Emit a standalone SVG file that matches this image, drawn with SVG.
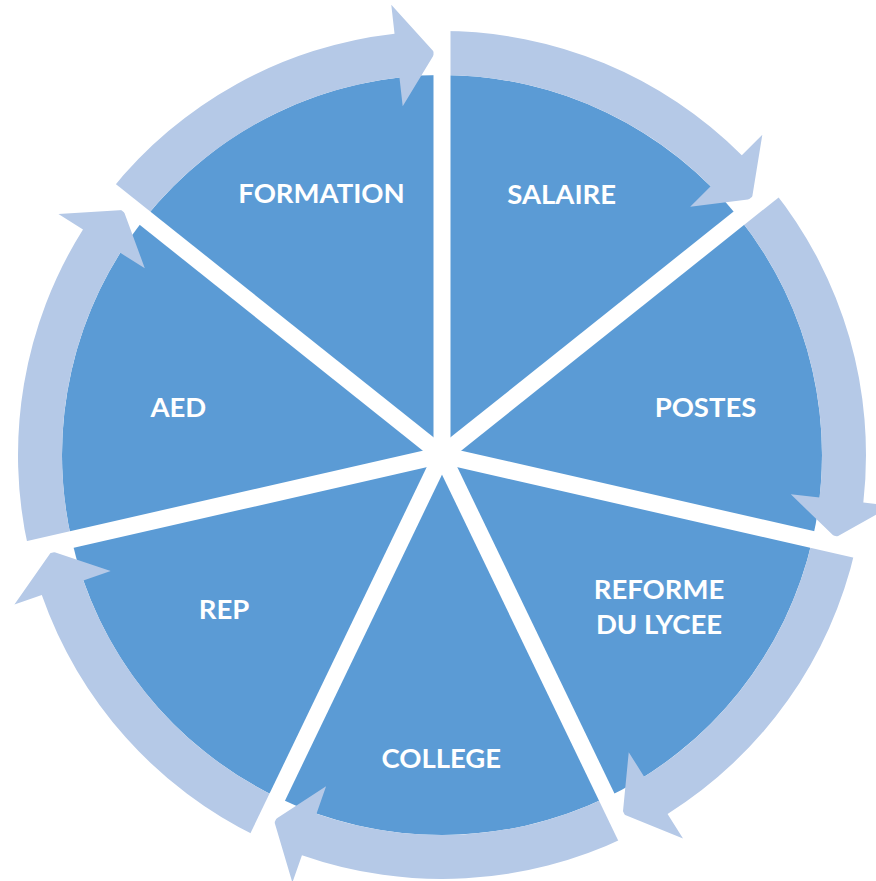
<svg xmlns="http://www.w3.org/2000/svg" xmlns:xlink="http://www.w3.org/1999/xlink" width="876" height="881" viewBox="0 0 876 881">
<style>
.slice{fill:#5B9BD5;}
.arrow{fill:#B5C9E7;}
.sep{stroke:#FFFFFF;stroke-width:17;}
.lbl{font-family:Lato,"Open Sans","Liberation Sans",sans-serif;font-weight:bold;font-size:27.5px;fill:#FFFFFF;text-anchor:middle;}
</style>
<defs>
<path id="slice" class="slice" d="M442,455 L442,75 A380,380 0 0 1 739.10,218.07 Z"/>
<path id="arrow" class="arrow" d="M442,31 A424,424 0 0 1 741.81,155.19 L762.32,134.68 L751.88,198.90 L690.19,206.81 L710.70,186.30 A380,380 0 0 0 442,75 Z"/>
<line id="sep" class="sep" x1="442" y1="455" x2="442" y2="8"/>
</defs>
<rect width="876" height="881" fill="#FFFFFF"/>
<g id="node-salaire">
<use xlink:href="#slice" href="#slice"/>
<text class="lbl" x="561.7" y="204">SALAIRE</text>
</g>
<g id="node-postes">
<use xlink:href="#slice" href="#slice" transform="rotate(51.4286 442 455)"/>
<text class="lbl" x="705.5" y="417">POSTES</text>
</g>
<g id="node-reforme">
<use xlink:href="#slice" href="#slice" transform="rotate(102.8571 442 455)"/>
<text class="lbl" x="659" y="599">REFORME</text>
<text class="lbl" x="659" y="634">DU LYCEE</text>
</g>
<g id="node-college">
<use xlink:href="#slice" href="#slice" transform="rotate(154.2857 442 455)"/>
<text class="lbl" x="441.3" y="768">COLLEGE</text>
</g>
<g id="node-rep">
<use xlink:href="#slice" href="#slice" transform="rotate(205.7143 442 455)"/>
<text class="lbl" x="224" y="619">REP</text>
</g>
<g id="node-aed">
<use xlink:href="#slice" href="#slice" transform="rotate(257.1429 442 455)"/>
<text class="lbl" x="178.3" y="417">AED</text>
</g>
<g id="node-formation">
<use xlink:href="#slice" href="#slice" transform="rotate(308.5714 442 455)"/>
<text class="lbl" x="321.5" y="203">FORMATION</text>
</g>
<g id="connectors">
<use xlink:href="#arrow" href="#arrow"/>
<use xlink:href="#arrow" href="#arrow" transform="rotate(51.4286 442 455)"/>
<use xlink:href="#arrow" href="#arrow" transform="rotate(102.8571 442 455)"/>
<use xlink:href="#arrow" href="#arrow" transform="rotate(154.2857 442 455)"/>
<use xlink:href="#arrow" href="#arrow" transform="rotate(205.7143 442 455)"/>
<use xlink:href="#arrow" href="#arrow" transform="rotate(257.1429 442 455)"/>
<use xlink:href="#arrow" href="#arrow" transform="rotate(308.5714 442 455)"/>
</g>
<g id="separators">
<use xlink:href="#sep" href="#sep"/>
<use xlink:href="#sep" href="#sep" transform="rotate(51.4286 442 455)"/>
<use xlink:href="#sep" href="#sep" transform="rotate(102.8571 442 455)"/>
<use xlink:href="#sep" href="#sep" transform="rotate(154.2857 442 455)"/>
<use xlink:href="#sep" href="#sep" transform="rotate(205.7143 442 455)"/>
<use xlink:href="#sep" href="#sep" transform="rotate(257.1429 442 455)"/>
<use xlink:href="#sep" href="#sep" transform="rotate(308.5714 442 455)"/>
</g>
</svg>
